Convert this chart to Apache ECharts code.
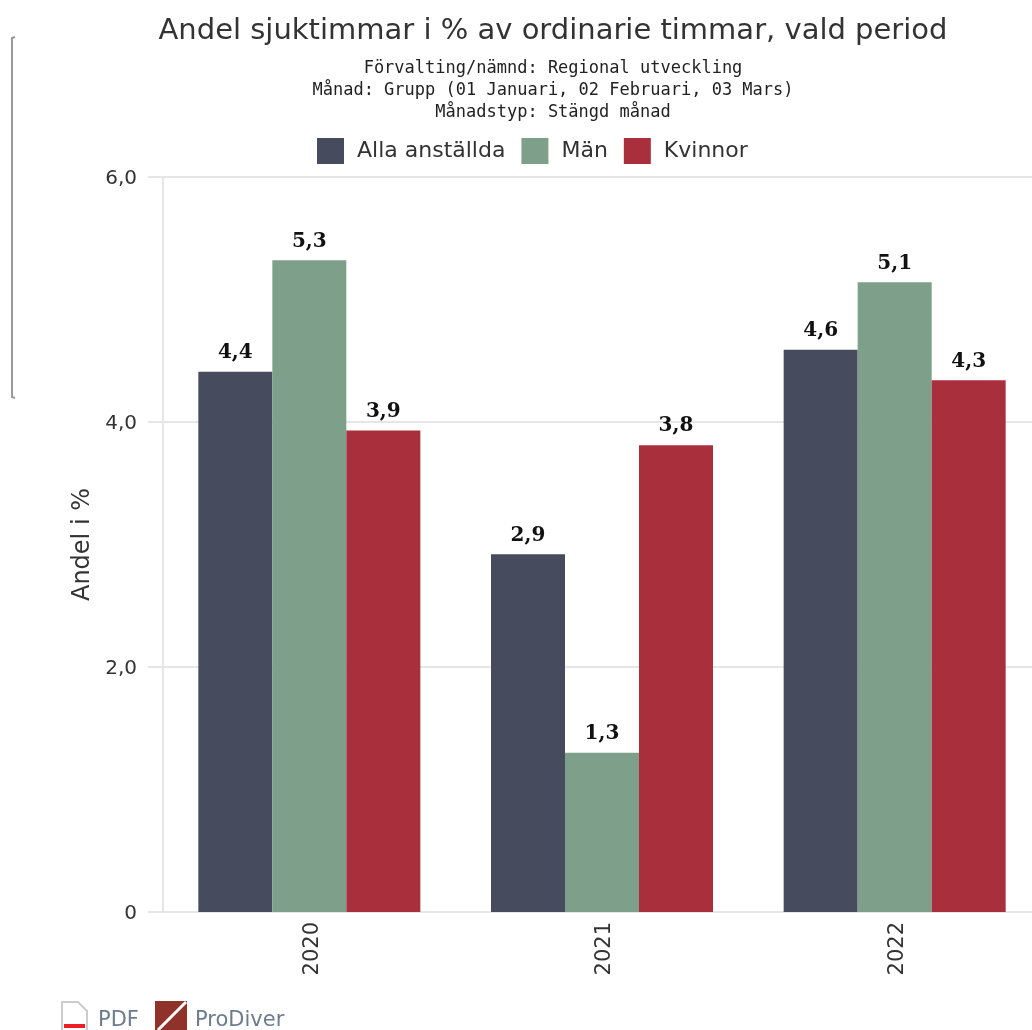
<!DOCTYPE html>
<html>
<head>
<meta charset="UTF-8">
<script type="text/javascript" src="https://cdn.jsdelivr.net/npm/echarts@6/dist/echarts.min.js"></script>
<title>Andel sjuktimmar</title>
<style>html,body{margin:0;padding:0;background:#fff;overflow:hidden}</style>
</head>
<body>
	<div id="main" style="width:1032px;height:1030px;"></div>
	<script type="text/javascript">
		var years = ['2020','2021','2022'];
		var alla = [4.41,2.92,4.59];
		var man = [5.32,1.30,5.14];
		var kvinnor = [3.93,3.81,4.34];
		var yTicks = {0:'0',2:'2,0',4:'4,0',6:'6,0'};

		var font = '"DejaVu Sans"';
		var myChart = echarts.init(document.getElementById("main"));

		function barSeries(name,data,color){
			return {
				name:name,
				type:'bar',
				data:data,
				barWidth:74,
				barGap:0,
				itemStyle:{color:color},
				label:{
					show:true,
					position:'top',
					distance:9,
					fontFamily:'"DejaVu Serif"',
					fontWeight:'bold',
					fontSize:20,
					color:'#111',
					formatter:function(p){return p.value.toFixed(1).replace('.',',');}
				}
			};
		}

		var option = {
			animation:false,
			title:[
				{text:'Andel sjuktimmar i % av ordinarie timmar, vald period',left:548,top:12,textAlign:'center',
					textStyle:{fontFamily:font,fontWeight:'normal',fontSize:29,color:'#333'}},
				{text:'Förvalting/nämnd: Regional utveckling\nMånad: Grupp (01 Januari, 02 Februari, 03 Mars)\nMånadstyp: Stängd månad',
					left:548,top:53,textAlign:'center',
					textStyle:{fontFamily:'"DejaVu Sans Mono"',fontWeight:'normal',fontSize:17,lineHeight:22,color:'#222'}}
			],
			legend:{
				left:312,top:133,
				icon:'rect',
				itemWidth:27,itemHeight:26,itemGap:16,
				textStyle:{fontFamily:font,fontSize:22,color:'#333',padding:[0,0,0,8]},
				data:['Alla anställda','Män','Kvinnor']
			},
			grid:{left:163,top:177,width:878,height:735,outerBoundsMode:'none'},
			xAxis:[{
				type:'category',
				data:years,
				axisLine:{lineStyle:{color:'#e6e6e6',width:2}},
				axisTick:{show:false},
				axisLabel:{rotate:90,margin:10,
					formatter:function(v){return '{a|'+v+'}';},
					rich:{a:{fontFamily:font,fontSize:21,color:'#333',padding:[6,0,0,0]}}}
			}],
			yAxis:[{
				type:'value',
				min:0,max:6,interval:2,
				name:'Andel i %',
				nameLocation:'middle',
				nameGap:68,
				nameTextStyle:{fontFamily:font,fontSize:24,color:'#333'},
				axisLine:{show:true,lineStyle:{color:'#e6e6e6',width:2}},
				axisTick:{show:true,length:15,lineStyle:{color:'#e6e6e6',width:2}},
				axisLabel:{margin:26,
					formatter:function(v){return '{a|'+yTicks[v]+'}';},
					rich:{a:{fontFamily:font,fontSize:20,color:'#333',padding:[4,0,0,0]}}},
				splitLine:{lineStyle:{color:'#e6e6e6',width:2}}
			}],
			series:[
				barSeries('Alla anställda',alla,'#464b5e'),
				barSeries('Män',man,'#7e9f8a'),
				barSeries('Kvinnor',kvinnor,'#a92f3d')
			],
			graphic:[
				{type:'polyline',shape:{points:[[15,37],[12,38],[12,397],[15,398]]},style:{stroke:'#999',lineWidth:2,fill:null}},
				{type:'polyline',shape:{points:[[62,1030],[62,1002],[78,1002],[87,1011],[87,1030]]},style:{stroke:'#ccc',lineWidth:2,fill:null}},
				{type:'rect',shape:{x:64,y:1024,width:21,height:4},style:{fill:'#ee1c25'}},
				{type:'text',style:{x:98,y:1010,text:'PDF',fontFamily:font,fontSize:21,fill:'#6d7b8f'}},
				{type:'rect',shape:{x:155,y:1001,width:32,height:29},style:{fill:'#8f3229'}},
				{type:'line',shape:{x1:186,y1:1002,x2:158,y2:1030},style:{stroke:'#fff',lineWidth:3}},
				{type:'text',style:{x:195,y:1010,text:'ProDiver',fontFamily:font,fontSize:21,fill:'#6d7b8f'}}
			]
		};
		myChart.setOption(option);
	</script>
</body>
</html>
